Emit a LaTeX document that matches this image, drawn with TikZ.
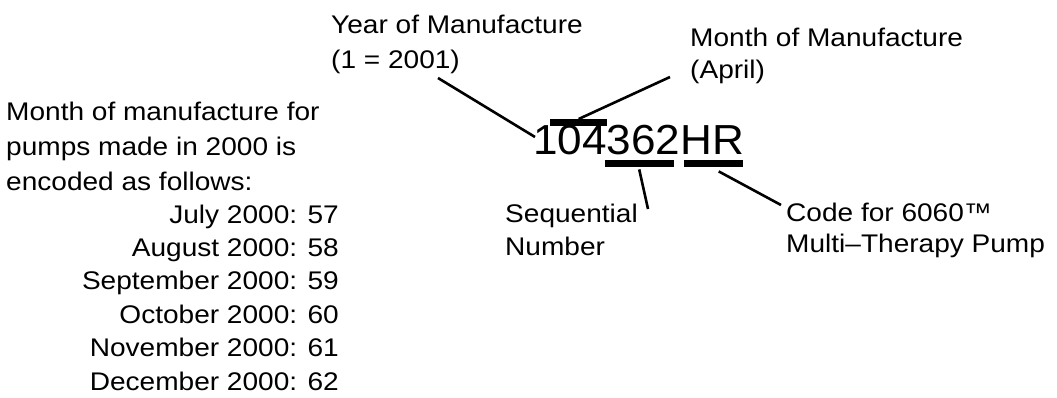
\documentclass[tikz,border=0pt]{standalone}
\usepackage{fontspec}
\usetikzlibrary{calc}
\setmainfont{Liberation Sans}
\newfontfamily\lblfont[FakeStretch=1.1]{Liberation Sans}
\newfontfamily\serialfont[FakeStretch=1.05]{Liberation Sans}
\begin{document}
\begin{tikzpicture}[x=1pt,y=-1pt,
  lbl/.style={inner sep=0pt, font=\lblfont\fontsize{25.5}{#1}\selectfont},
  lbl/.default=33.5,
  bar/.style={fill=black, inner sep=0pt, minimum height=7pt, anchor=north west},
  lead/.style={line width=2.6pt}]
\useasboundingbox (0,0) rectangle (1057,398);
% serial number
\node[inner sep=0pt, anchor=base west, font=\serialfont\fontsize{42}{42}\selectfont] (serial) at (533,155) {104362HR};
% bars
\node[bar, minimum width=57pt] (ob) at (550,119) {};
\node[bar, minimum width=69pt] (sb) at (605,160) {};
\node[bar, minimum width=59pt] (hb) at (684,160) {};
% labels (base anchor = baseline of the last line)
\node[lbl=35, anchor=base west, align=left] (year) at (331,68.3) {Year of Manufacture\\(1 = 2001)};
\node[lbl=31.6, anchor=base west, align=left] (month) at (690,78.3) {Month of Manufacture\\(April)};
\node[lbl=32.7, anchor=base west, align=left] (seq) at (505,255) {Sequential\\Number};
\node[lbl=31.5, anchor=base west, align=left] (code) at (786,252.5) {Code for 6060™\\Multi–Therapy Pump};
\node[lbl=34.6, anchor=base west, align=left] (head) at (6,190) {Month of manufacture for\\pumps made in 2000 is\\encoded as follows:};
\node[lbl=33.35, anchor=base east, align=right] (list) at (339,390) {July 2000: 57\\August 2000: 58\\September 2000: 59\\October 2000: 60\\November 2000: 61\\December 2000: 62};
% connector ends
\coordinate (yearend) at (438,78);
\coordinate (yeartip) at (535,137);
\coordinate (monthend) at (670,77);
\coordinate (seqend) at (648,209);
\coordinate (codeend) at (781,205);
% connectors
\draw[lead] (yearend) -- (yeartip);
\draw[lead] (monthend) -- (ob.north);
\draw[lead] ($(sb.south)+(-0.5,2)$) -- (seqend);
\draw[lead] ($(hb.south)+(5,4)$) -- (codeend);
\end{tikzpicture}
\end{document}
